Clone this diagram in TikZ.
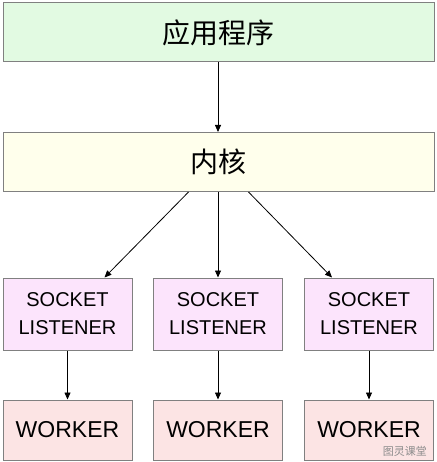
\documentclass[tikz,border=0pt]{standalone}
\usepackage{fontspec}
\setmainfont{Liberation Sans}
\newfontfamily\cjk{Noto Sans CJK SC}
\usetikzlibrary{arrows.meta,calc}
\definecolor{appfill}{RGB}{226,250,226}
\definecolor{kernfill}{RGB}{255,255,236}
\definecolor{sockfill}{RGB}{252,228,252}
\definecolor{workfill}{RGB}{252,228,228}
\definecolor{edge}{RGB}{128,128,128}
\begin{document}
\begin{tikzpicture}[x=1pt,y=-1pt,
  box/.style={draw=edge,line width=1pt,inner sep=0pt,align=center},
  wide/.style={box,minimum width=431pt,minimum height=59pt},
  small/.style={box,minimum width=129pt},
  arr/.style={-{Triangle[length=7pt,width=6pt]},line width=0.8pt,black}]
\useasboundingbox (0,0) rectangle (436,462);
\fill[white] (0,0) rectangle (436,462);
\node[wide,fill=appfill,font=\cjk\fontsize{28}{30}\selectfont] (app) at (218.5,32.5) {应用程序};
\node[wide,fill=kernfill,font=\cjk\fontsize{28}{30}\selectfont] (kern) at (218.5,162) {内核};
\foreach \i/\x in {1/67.5,2/218,3/369}{
  \node[small,minimum height=72pt,fill=sockfill,font=\fontsize{20}{28}\selectfont] (s\i) at (\x,314) {SOCKET\\LISTENER};
  \node[small,minimum height=60pt,fill=workfill,font=\fontsize{23}{26}\selectfont] (w\i) at (\x,430) {WORKER};
  \draw[arr] (s\i.south) -- (w\i.north);
}
\draw[arr] (app.south -| s2.north) -- (kern.north -| s2.north);
\coordinate (k1) at ($(kern.south)+(-30,0)$);
\coordinate (k3) at ($(kern.south)+(30,0)$);
\coordinate (t1) at ($(s1.north)+(37,0)$);
\coordinate (t3) at ($(s3.north)+(-37,0)$);
\draw[arr] (k1) -- (t1);
\draw[arr] (kern.south -| s2.north) -- (s2.north);
\draw[arr] (k3) -- (t3);
\node[font=\cjk\fontsize{11}{12}\selectfont,text=black!45,anchor=east,inner sep=0pt] (wm) at (427,451) {图灵课堂};
\end{tikzpicture}
\end{document}
